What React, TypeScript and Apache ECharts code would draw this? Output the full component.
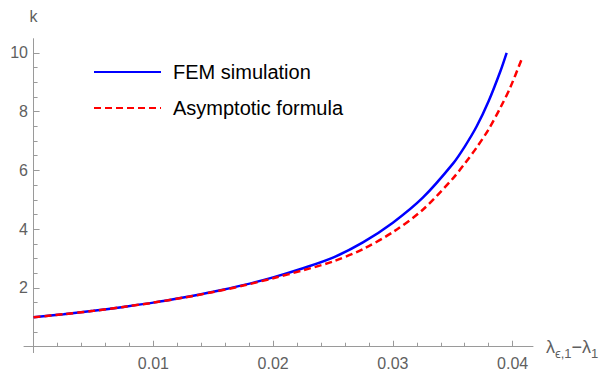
import React, { useEffect, useRef } from "react";
import * as echarts from "echarts";

const femSimulation: [number, number][] = [
  [0, 1.0], [0.0025, 1.105], [0.005, 1.22], [0.0075, 1.355], [0.01, 1.5],
  [0.0125, 1.675], [0.015, 1.87], [0.0175, 2.095], [0.02, 2.36], [0.0225, 2.67],
  [0.025, 3.03], [0.0275, 3.55], [0.03, 4.22], [0.0325, 5.07], [0.035, 6.22],
  [0.036, 6.81], [0.037, 7.5], [0.038, 8.36], [0.039, 9.4], [0.0395, 10.0],
];

const asymptoticFormula: [number, number][] = [
  [0, 1.0], [0.0025, 1.105], [0.005, 1.22], [0.0075, 1.355], [0.01, 1.5],
  [0.0125, 1.67], [0.015, 1.86], [0.0175, 2.08], [0.02, 2.33], [0.0225, 2.6],
  [0.025, 2.9], [0.0275, 3.32], [0.03, 3.9], [0.0325, 4.66], [0.035, 5.72],
  [0.036, 6.23], [0.037, 6.78], [0.038, 7.4], [0.039, 8.15], [0.0398, 8.82],
  [0.0408, 9.83],
];

const xMajorTicks = [0.01, 0.02, 0.03, 0.04];
const xMinorTicks = [
  0.002, 0.004, 0.006, 0.008, 0.012, 0.014, 0.016, 0.018,
  0.022, 0.024, 0.026, 0.028, 0.032, 0.034, 0.036, 0.038,
];
const yMajorTicks = [2, 4, 6, 8, 10];
const yMinorTicks = [0.5, 1, 1.5, 2.5, 3, 3.5, 4.5, 5, 5.5, 6.5, 7, 7.5, 8.5, 9, 9.5];

const X_MIN = -0.0008;
const X_MAX = 0.0417;
const Y_MIN = -0.2;
const Y_MAX = 10.48;

const FONT = "'Liberation Sans', Arial, sans-serif";
const AXIS_COLOR = "#9a9a9a";
const LABEL_COLOR = "#5f5f5f";

export default function App() {
  const ref = useRef<HTMLDivElement>(null);

  useEffect(() => {
    document.body.style.margin = "0";
    if (!ref.current) return;
    const chart = echarts.init(ref.current, undefined, { renderer: "svg" });

    const axisLine = { show: true, onZero: true, lineStyle: { color: AXIS_COLOR, width: 1 } };

    chart.setOption({
      animation: false,
      backgroundColor: "#fff",
      grid: { left: 24, right: 75, top: 38.7, bottom: 19.4, containLabel: false, outerBoundsMode: "none" },
      legend: {
        orient: "vertical",
        left: 93,
        top: 62,
        padding: 0,
        itemWidth: 67,
        itemHeight: 20,
        itemGap: 16,
        itemStyle: { opacity: 0 },
        textStyle: { fontSize: 20, color: "#000", fontFamily: FONT, lineHeight: 20, padding: [0, 0, 0, 7] },
        data: ["FEM simulation", "Asymptotic formula"],
      },
      xAxis: [
        {
          type: "value",
          min: X_MIN,
          max: X_MAX,
          position: "bottom",
          axisLine,
          axisTick: { show: true, inside: true, length: 6, customValues: xMajorTicks, lineStyle: { color: AXIS_COLOR } },
          axisLabel: {
            show: true,
            customValues: xMajorTicks,
            formatter: (v: number) => v.toFixed(2),
            color: LABEL_COLOR,
            fontSize: 16,
            fontFamily: FONT,
            margin: 3,
          },
          splitLine: { show: false },
          name: "{a|λ}{s|ϵ,1}{a|−λ}{s|1}",
          nameLocation: "end",
          nameGap: 13,
          nameTextStyle: {
            rich: {
              a: { fontSize: 18, lineHeight: 26, color: LABEL_COLOR, fontFamily: FONT },
              s: { fontSize: 13, verticalAlign: "bottom", color: LABEL_COLOR, fontFamily: FONT },
            },
          },
        },
        {
          type: "value",
          min: X_MIN,
          max: X_MAX,
          position: "bottom",
          axisLine: { ...axisLine, show: false },
          axisTick: { show: true, inside: true, length: 4, customValues: xMinorTicks, lineStyle: { color: AXIS_COLOR } },
          axisLabel: { show: false },
          splitLine: { show: false },
        },
      ],
      yAxis: [
        {
          type: "value",
          min: Y_MIN,
          max: Y_MAX,
          position: "left",
          axisLine,
          axisTick: { show: true, inside: true, length: 6, customValues: yMajorTicks, lineStyle: { color: AXIS_COLOR } },
          axisLabel: {
            show: true,
            customValues: yMajorTicks,
            color: LABEL_COLOR,
            fontSize: 16,
            fontFamily: FONT,
            margin: -4,
          },
          splitLine: { show: false },
          name: "k",
          nameLocation: "end",
          nameGap: 14,
          nameTextStyle: { fontSize: 16, color: LABEL_COLOR, fontFamily: FONT },
        },
        {
          type: "value",
          min: Y_MIN,
          max: Y_MAX,
          position: "left",
          axisLine: { ...axisLine, show: false },
          axisTick: { show: true, inside: true, length: 4, customValues: yMinorTicks, lineStyle: { color: AXIS_COLOR } },
          axisLabel: { show: false },
          splitLine: { show: false },
        },
      ],
      series: [
        {
          name: "FEM simulation",
          type: "line",
          xAxisIndex: 0,
          yAxisIndex: 0,
          data: femSimulation,
          smooth: 0.3,
          symbol: "none",
          lineStyle: { color: "#0000ff", width: 2.5 },
          itemStyle: { color: "#0000ff" },
          z: 2,
        },
        {
          name: "Asymptotic formula",
          type: "line",
          xAxisIndex: 0,
          yAxisIndex: 0,
          data: asymptoticFormula,
          smooth: 0.3,
          symbol: "none",
          lineStyle: { color: "#ff0000", width: 2.5, type: [7, 4] },
          itemStyle: { color: "#ff0000" },
          z: 3,
        },
      ],
    });

    return () => chart.dispose();
  }, []);

  return <div ref={ref} style={{ width: 608, height: 372 }} />;
}
